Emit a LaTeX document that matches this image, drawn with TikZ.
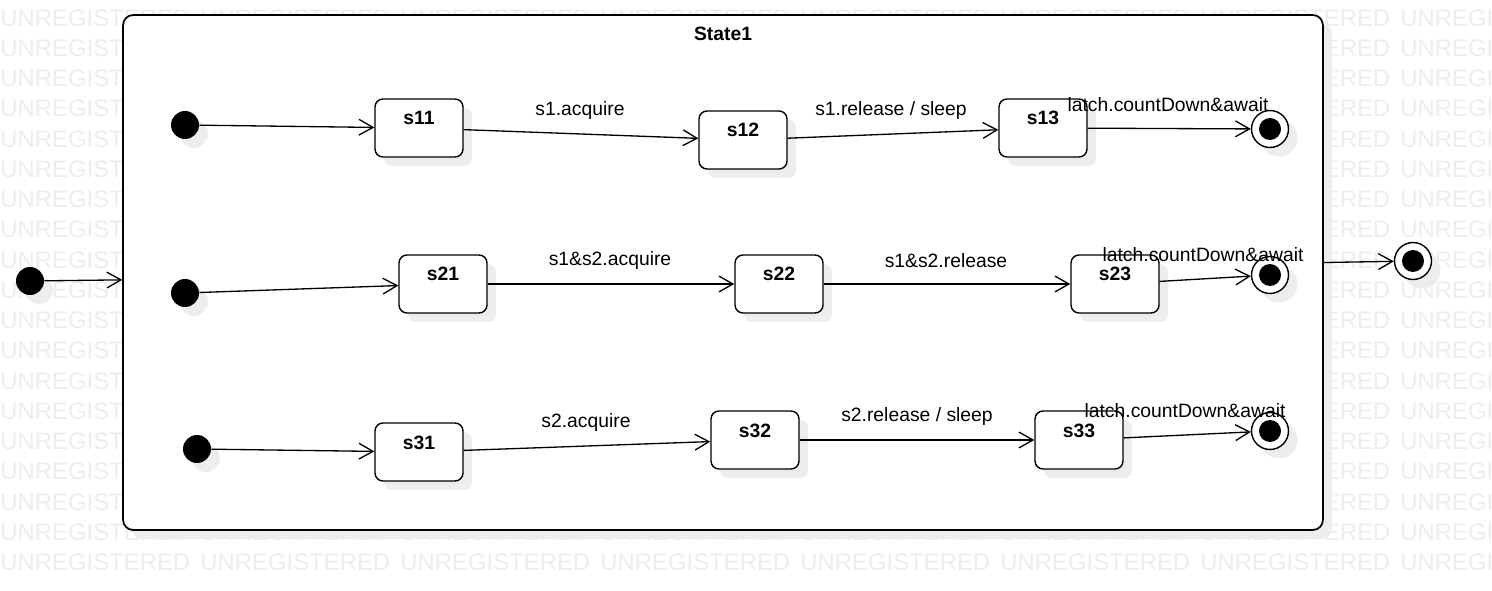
\documentclass[tikz,border=0pt]{standalone}
\usepackage{fontspec}
\setmainfont{Liberation Sans}
\usetikzlibrary{arrows.meta,shadows,positioning}

\begin{document}
\begin{tikzpicture}[x=0.02cm, y=-0.02cm,
        shadowed/.style={drop shadow={shadow xshift=0.18cm, shadow yshift=-0.18cm, fill=black!7, opacity=1}},
        stbox/.style={draw, rounded corners=0.16cm, fill=white, shadowed, line width=0.8pt,
            minimum width=1.76cm, minimum height=1.16cm, inner ysep=0.15cm,
            text height=0.37cm, text depth=0.49cm, font=\fontsize{11}{13}\selectfont\bfseries},
        startdot/.style={circle, fill=black, minimum size=0.56cm, inner sep=0pt, shadowed},
        enddot/.style={circle, draw, fill=white, line width=0.8pt, minimum size=0.74cm, inner sep=0pt, shadowed,
            path picture={\fill[black] (path picture bounding box.center) circle (0.22cm);}},
        trans/.style={-{Straight Barb[length=8pt, width=9pt]}, line width=0.75pt},
        lbl/.style={font=\fontsize{11}{13}\selectfont},
        wm/.style={font=\fontsize{13.6}{16}\selectfont, text=black!7, inner sep=0pt, anchor=west}]
    \useasboundingbox (0, 0) rectangle (1492, 591);

    % watermark
    \begin{scope}
        \clip (0, 0) rectangle (1492, 591);
        \foreach \r in {0, ..., 18}
            \foreach \c in {0, ..., 7}
                \node[wm] (wm-\r-\c) at (200*\c, 18 + 30.25*\r) {UNREGISTERED};
    \end{scope}

    \node[draw, rounded corners=0.2cm, fill=white, shadowed, line width=1pt,
        minimum width=24cm, minimum height=10.3cm, inner sep=0pt] (state1) at (723, 272.5) {};
    \node[font=\fontsize{11}{13}\selectfont\bfseries, below=0.14cm of state1.north] (title) {State1};

    \node[startdot] (i0) at (30, 281) {};
    \node[enddot]   (f0) at (1413, 261) {};

    % row 1
    \node[startdot] (i1) at (185, 125) {};
    \node[stbox]   (s11) at (419, 128) {s11};
    \node[stbox]   (s12) at (743, 140) {s12};
    \node[stbox]   (s13) at (1043, 128) {s13};
    \node[enddot]   (f1) at (1270, 129) {};
    % row 2
    \node[startdot] (i2) at (185, 293) {};
    \node[stbox]   (s21) at (443, 284) {s21};
    \node[stbox]   (s22) at (779, 284) {s22};
    \node[stbox]   (s23) at (1115, 284) {s23};
    \node[enddot]   (f2) at (1270, 275) {};
    % row 3
    \node[startdot] (i3) at (197, 449) {};
    \node[stbox]   (s31) at (419, 452) {s31};
    \node[stbox]   (s32) at (755, 440) {s32};
    \node[stbox]   (s33) at (1079, 440) {s33};
    \node[enddot]   (f3) at (1270, 431) {};

    \foreach \a/\b in {i0/state1, state1/f0,
                       i1/s11, s11/s12, s12/s13, s13/f1,
                       i2/s21, s21/s22, s22/s23, s23/f2,
                       i3/s31, s31/s32, s32/s33, s33/f3}
        \draw[trans] (\a) -- (\b);

    \node[lbl] (l12) at (580, 111) {s1.acquire};           %  s11 -- s12
    \node[lbl] (l13) at (891, 111) {s1.release / sleep};   %  s12 -- s13
    \node[lbl] (l1f) at (1168, 105) {latch.countDown\&await};
    \node[lbl] (l22) at (610, 261) {s1\&s2.acquire};       %  s21 -- s22
    \node[lbl] (l23) at (946, 261) {s1\&s2.release};       %  s22 -- s23
    \node[lbl] (l2f) at (1203, 255) {latch.countDown\&await};
    \node[lbl] (l32) at (586, 423) {s2.acquire};           %  s31 -- s32
    \node[lbl] (l33) at (917, 417) {s2.release / sleep};   %  s32 -- s33
    \node[lbl] (l3f) at (1185, 411) {latch.countDown\&await};
\end{tikzpicture}
\end{document}
